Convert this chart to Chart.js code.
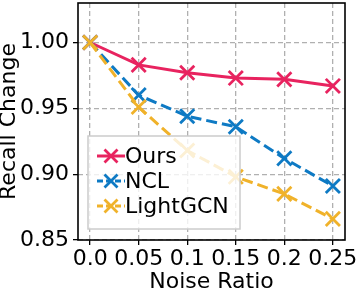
<!DOCTYPE html>
<html>
<head>
<meta charset="utf-8">
<script src="https://cdn.jsdelivr.net/npm/chart.js@4"></script>
<style>
  html, body { margin: 0; padding: 0; background: #fff; }
  #wrap { width: 356px; height: 297px; }
</style>
</head>
<body>
<div id="wrap"><canvas id="chart" width="356" height="297"></canvas></div>
<script>
// values
const noiseRatios = [0.0, 0.05, 0.1, 0.15, 0.2, 0.25];
const xTickLabels = ["0.0", "0.05", "0.1", "0.15", "0.2", "0.25"];
const yTicks = [0.85, 0.90, 0.95, 1.00];
const seriesNames = ["Ours", "NCL", "LightGCN"];
const oursValues = [1.0, 0.983, 0.977, 0.973, 0.972, 0.967];
const nclValues = [1.0, 0.960, 0.944, 0.936, 0.912, 0.891];
const lightgcnValues = [1.0, 0.951, 0.918, 0.898, 0.885, 0.866];

const colors = ["#e8235f", "#0e7ac4", "#f0b22a"];
const dashes = [[], [11, 5], [11, 5]];
const FONT = "'DejaVu Sans', sans-serif";

function toPoints(values) {
    return values.map((v, i) => ({ x: noiseRatios[i], y: v }));
}

const allValues = [oursValues, nclValues, lightgcnValues];

const datasets = allValues.map((vals, i) => ({
    label: seriesNames[i],
    data: toPoints(vals),
    borderColor: colors[i],
    backgroundColor: colors[i],
    borderWidth: 3,
    borderDash: dashes[i],
    pointStyle: 'crossRot',
    pointRadius: 10,
    pointBorderWidth: 2.8,
    pointBorderColor: colors[i],
    order: 3 - i,
    tension: 0
}));

// full black frame around the plot area
const framePlugin = {
    id: 'frame',
    afterDatasetsDraw(chart) {
        const { ctx, chartArea: a } = chart;
        ctx.save();
        ctx.strokeStyle = '#000';
        ctx.lineWidth = 1.6;
        ctx.strokeRect(a.left, a.top, a.right - a.left, a.bottom - a.top);
        ctx.restore();
    }
};

// legend box inside the plot, lower left
const legendPlugin = {
    id: 'innerLegend',
    afterDraw(chart) {
        const ctx = chart.ctx;
        const x0 = 88, y0 = 136, w = 152, h = 93;
        ctx.save();
        ctx.fillStyle = 'rgba(255,255,255,0.8)';
        ctx.fillRect(x0, y0, w, h);
        ctx.strokeStyle = '#cccccc';
        ctx.lineWidth = 1.5;
        ctx.strokeRect(x0, y0, w, h);
        chart.data.datasets.forEach((ds, i) => {
            const cy = y0 + 20 + i * 25;
            ctx.strokeStyle = ds.borderColor;
            ctx.lineWidth = 3;
            ctx.setLineDash(ds.borderDash.length ? [6, 3] : []);
            ctx.beginPath();
            ctx.moveTo(97, cy);
            ctx.lineTo(125, cy);
            ctx.stroke();
            ctx.setLineDash([]);
            ctx.lineWidth = 2.8;
            const r = 6.5;
            ctx.beginPath();
            ctx.moveTo(111 - r, cy - r); ctx.lineTo(111 + r, cy + r);
            ctx.moveTo(111 - r, cy + r); ctx.lineTo(111 + r, cy - r);
            ctx.stroke();
            ctx.fillStyle = '#000';
            ctx.font = '22px ' + FONT;
            ctx.textBaseline = 'middle';
            ctx.textAlign = 'left';
            ctx.fillText(ds.label, 125, cy + 1);
        });
        ctx.restore();
    }
};

const gridCommon = {
    color: '#b0b0b0',
    lineWidth: 1.3,
    drawTicks: true,
    tickLength: 5,
    tickColor: '#000',
    tickWidth: 1.3,
    tickBorderDash: []
};

new Chart(document.getElementById('chart'), {
    type: 'line',
    data: { datasets: datasets },
    options: {
        responsive: false,
        animation: false,
        layout: { autoPadding: false, padding: { top: 3, right: 11, left: 0, bottom: 0 } },
        plugins: { legend: { display: false }, tooltip: { enabled: false } },
        scales: {
            x: {
                type: 'linear',
                min: -0.0125,
                max: 0.2625,
                afterBuildTicks(axis) {
                    axis.ticks = noiseRatios.map(v => ({ value: v }));
                },
                afterFit(axis) {
                    axis.height = 57;
                    axis.paddingLeft = 0;
                    axis.paddingRight = 0;
                },
                ticks: {
                    color: '#000',
                    font: { family: FONT, size: 22 },
                    padding: 1,
                    maxRotation: 0,
                    autoSkip: false,
                    callback(value, index) { return xTickLabels[index]; }
                },
                grid: gridCommon,
                border: { display: false, dash: [5, 3] },
                title: {
                    display: true,
                    text: 'Noise Ratio',
                    color: '#000',
                    font: { family: FONT, size: 22 },
                    padding: { top: -2, bottom: 2 }
                }
            },
            y: {
                min: 0.85,
                max: 1.03,
                afterBuildTicks(axis) {
                    axis.ticks = yTicks.map(v => ({ value: v }));
                },
                afterFit(axis) {
                    axis.width = 78;
                    axis.paddingTop = 0;
                    axis.paddingBottom = 0;
                },
                ticks: {
                    color: '#000',
                    font: { family: FONT, size: 22 },
                    padding: 4,
                    callback(value) { return value.toFixed(2); }
                },
                grid: gridCommon,
                border: { display: false, dash: [5, 3] },
                title: {
                    display: true,
                    text: 'Recall Change',
                    color: '#000',
                    font: { family: FONT, size: 22 },
                    padding: { top: -4, bottom: 0 }
                }
            }
        }
    },
    plugins: [framePlugin, legendPlugin]
});
</script>
</body>
</html>
